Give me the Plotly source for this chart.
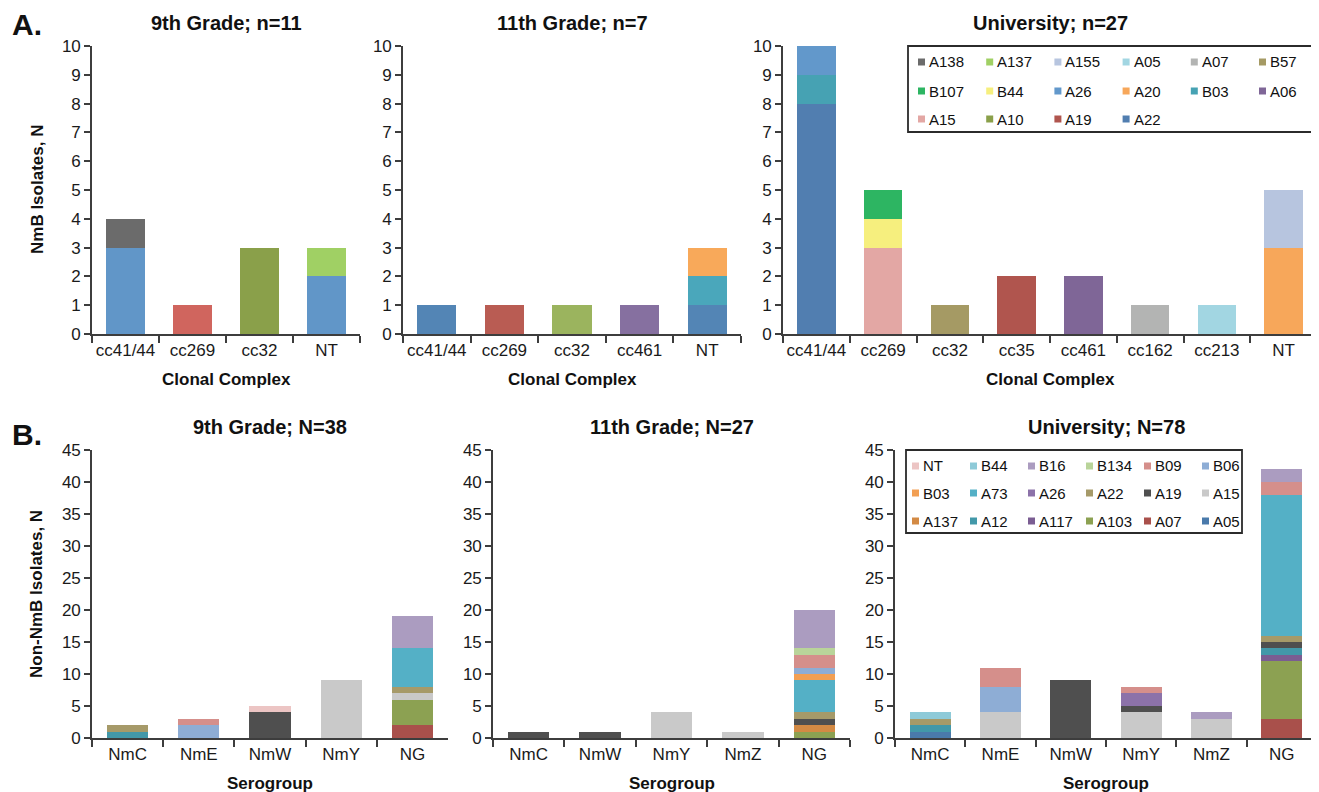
import plotly.graph_objects as go

# page body has an 8px margin: figure is sized so that pixel positions match the window
OFF = 8
W, H = 1319 - OFF, 792 - OFF
FONT = "Liberation Sans, Arial, sans-serif"

# ---------------- Panel A: NmB isolates by clonal complex ----------------
# stack order bottom -> top (legend shows the reverse)
a_series = ["A22", "A19", "A10", "A15", "A06", "B03", "A20", "A26", "B44",
            "B107", "B57", "A07", "A05", "A155", "A137", "A138"]
a_colors = {"A138": "#6b6b6b", "A137": "#a0d064", "A155": "#b7c5df", "A05": "#a2d6e2",
            "A07": "#b3b4b3", "B57": "#a59a64", "B107": "#2db562", "B44": "#f6ef7e",
            "A26": "#6298cb", "A20": "#f7a75a", "B03": "#46a2b3", "A06": "#7f6697",
            "A15": "#e3a7a4", "A10": "#8aa04a", "A19": "#b0554e", "A22": "#517eb0"}

a9_title = "9th Grade; n=11"
a9_cats = ["cc41/44", "cc269", "cc32", "NT"]
a9_vals = {"A19": [0, 1, 0, 0], "A10": [0, 0, 3, 0], "A26": [3, 0, 0, 2],
           "A137": [0, 0, 0, 1], "A138": [1, 0, 0, 0]}
a9_colors = {"A19": "#d0655e", "A26": "#6196c8"}

a11_title = "11th Grade; n=7"
a11_cats = ["cc41/44", "cc269", "cc32", "cc461", "NT"]
a11_vals = {"A22": [1, 0, 0, 0, 1], "A19": [0, 1, 0, 0, 0], "A10": [0, 0, 1, 0, 0],
            "A06": [0, 0, 0, 1, 0], "B03": [0, 0, 0, 0, 1], "A20": [0, 0, 0, 0, 1]}
a11_colors = {"A22": "#5385b5", "A19": "#b95c53", "A10": "#9bb45e", "A06": "#8670a0",
              "B03": "#4aa7bb", "A20": "#f8a95a"}

au_title = "University; n=27"
au_cats = ["cc41/44", "cc269", "cc32", "cc35", "cc461", "cc162", "cc213", "NT"]
au_vals = {"A22": [8, 0, 0, 0, 0, 0, 0, 0], "A19": [0, 0, 0, 2, 0, 0, 0, 0],
           "A15": [0, 3, 0, 0, 0, 0, 0, 0], "A06": [0, 0, 0, 0, 2, 0, 0, 0],
           "B03": [1, 0, 0, 0, 0, 0, 0, 0], "A20": [0, 0, 0, 0, 0, 0, 0, 3],
           "A26": [1, 0, 0, 0, 0, 0, 0, 0], "B44": [0, 1, 0, 0, 0, 0, 0, 0],
           "B107": [0, 1, 0, 0, 0, 0, 0, 0], "B57": [0, 0, 1, 0, 0, 0, 0, 0],
           "A07": [0, 0, 0, 0, 0, 1, 0, 0], "A05": [0, 0, 0, 0, 0, 0, 1, 0],
           "A155": [0, 0, 0, 0, 0, 0, 0, 2]}
au_colors = {}

# ---------------- Panel B: non-NmB isolates by serogroup ----------------
b_series = ["A05", "A07", "A103", "A117", "A12", "A137", "A15", "A19", "A22", "A26",
            "A73", "B03", "B06", "B09", "B134", "B16", "B44", "NT"]
b_colors = {"NT": "#ecc5c4", "B44": "#8ecad8", "B16": "#ab9cc0", "B134": "#b9d49a",
            "B09": "#d58f8b", "B06": "#8eadd5", "B03": "#f29f53", "A73": "#54b0c6",
            "A26": "#8c72a9", "A22": "#a69a69", "A19": "#4f4f4f", "A15": "#c9c9c9",
            "A137": "#d38a44", "A12": "#4298a9", "A117": "#7a5d92", "A103": "#8ca152",
            "A07": "#a9504b", "A05": "#4a7aab"}

b9_title = "9th Grade; N=38"
b9_cats = ["NmC", "NmE", "NmW", "NmY", "NG"]
b9_vals = {"A07": [0, 0, 0, 0, 2], "A103": [0, 0, 0, 0, 4], "A12": [1, 0, 0, 0, 0],
           "A15": [0, 0, 0, 9, 1], "A19": [0, 0, 4, 0, 0], "A22": [1, 0, 0, 0, 1],
           "A73": [0, 0, 0, 0, 6], "B06": [0, 2, 0, 0, 0], "B09": [0, 1, 0, 0, 0],
           "B16": [0, 0, 0, 0, 5], "NT": [0, 0, 1, 0, 0]}

b11_title = "11th Grade; N=27"
b11_cats = ["NmC", "NmW", "NmY", "NmZ", "NG"]
b11_vals = {"A103": [0, 0, 0, 0, 1], "A137": [0, 0, 0, 0, 1], "A15": [0, 0, 4, 1, 0],
            "A19": [1, 1, 0, 0, 1], "A22": [0, 0, 0, 0, 1], "A73": [0, 0, 0, 0, 5],
            "B03": [0, 0, 0, 0, 1], "B06": [0, 0, 0, 0, 1], "B09": [0, 0, 0, 0, 2],
            "B134": [0, 0, 0, 0, 1], "B16": [0, 0, 0, 0, 6]}

bu_title = "University; N=78"
bu_cats = ["NmC", "NmE", "NmW", "NmY", "NmZ", "NG"]
bu_vals = {"A05": [1, 0, 0, 0, 0, 0], "A07": [0, 0, 0, 0, 0, 3], "A103": [0, 0, 0, 0, 0, 9],
           "A117": [0, 0, 0, 0, 0, 1], "A12": [1, 0, 0, 0, 0, 1], "A15": [0, 4, 0, 4, 3, 0],
           "A19": [0, 0, 9, 1, 0, 1], "A22": [1, 0, 0, 0, 0, 1], "A26": [0, 0, 0, 2, 0, 0],
           "A73": [0, 0, 0, 0, 0, 22], "B06": [0, 4, 0, 0, 0, 0], "B09": [0, 3, 0, 1, 0, 2],
           "B16": [0, 0, 0, 0, 1, 2], "B44": [1, 0, 0, 0, 0, 0]}

a_ytitle = "NmB Isolates, N"
b_ytitle = "Non-NmB Isolates, N"
a_xtitle = "Clonal Complex"
b_xtitle = "Serogroup"


def fx(px):
    return (px - OFF) / W


def fy(py):
    return 1 - (py - OFF) / H


# subplot layout (pixel boxes in window coordinates)
panels = [
    dict(title=a9_title, cats=a9_cats, vals=a9_vals, order=a_series, colors={**a_colors, **a9_colors},
         x0=92, x1=360, y0=46, y1=334, ymax=10, dtick=1, xtitle=a_xtitle),
    dict(title=a11_title, cats=a11_cats, vals=a11_vals, order=a_series, colors={**a_colors, **a11_colors},
         x0=403, x1=741, y0=46, y1=334, ymax=10, dtick=1, xtitle=a_xtitle),
    dict(title=au_title, cats=au_cats, vals=au_vals, order=a_series, colors={**a_colors, **au_colors},
         x0=783, x1=1317, y0=46, y1=334, ymax=10, dtick=1, xtitle=a_xtitle),
    dict(title=b9_title, cats=b9_cats, vals=b9_vals, order=b_series, colors=b_colors,
         x0=92, x1=448, y0=450, y1=738, ymax=45, dtick=5, xtitle=b_xtitle),
    dict(title=b11_title, cats=b11_cats, vals=b11_vals, order=b_series, colors=b_colors,
         x0=493, x1=850, y0=450, y1=738, ymax=45, dtick=5, xtitle=b_xtitle),
    dict(title=bu_title, cats=bu_cats, vals=bu_vals, order=b_series, colors=b_colors,
         x0=895, x1=1317, y0=450, y1=738, ymax=45, dtick=5, xtitle=b_xtitle),
]

fig = go.Figure()
annotations = []
shapes = []
AXC = "#3d3d3d"

for i, p in enumerate(panels, start=1):
    sx = "" if i == 1 else str(i)
    xid, yid = "x" + sx, "y" + sx
    for s in p["order"]:
        if s not in p["vals"]:
            continue
        fig.add_trace(go.Bar(x=p["cats"], y=p["vals"][s], name=s,
                             marker=dict(color=p["colors"][s], line=dict(width=0)),
                             xaxis=xid, yaxis=yid, showlegend=False))
    fig.layout["xaxis" + sx] = dict(
        domain=[fx(p["x0"]), fx(p["x1"])], anchor=yid, type="category",
        categoryorder="array", categoryarray=p["cats"], tickangle=0,
        showline=True, linecolor=AXC, linewidth=1.6, ticks="outside", tickson="boundaries",
        ticklen=7, tickwidth=1.6, tickcolor=AXC, showgrid=False, zeroline=False,
        tickfont=dict(family=FONT, size=17, color="#1a1a1a"), automargin=False, fixedrange=True)
    fig.layout["yaxis" + sx] = dict(
        domain=[fy(p["y1"]), fy(p["y0"])], anchor=xid, range=[0, p["ymax"]], dtick=p["dtick"],
        showline=True, linecolor=AXC, linewidth=1.6, ticks="outside", ticklen=6, tickwidth=1.6,
        tickcolor=AXC, showgrid=False, zeroline=False,
        tickfont=dict(family=FONT, size=17, color="#1a1a1a"), automargin=False, fixedrange=True)
    cx = fx((p["x0"] + p["x1"]) / 2)
    annotations.append(dict(text="<b>%s</b>" % p["title"], x=cx, y=fy(p["y0"] - 23),
                            xref="paper", yref="paper", showarrow=False, xanchor="center",
                            yanchor="middle", font=dict(family=FONT, size=20, color="#111")))
    annotations.append(dict(text="<b>%s</b>" % p["xtitle"], x=cx, y=fy(p["y1"] + 45),
                            xref="paper", yref="paper", showarrow=False, xanchor="center",
                            yanchor="middle", font=dict(family=FONT, size=17, color="#111")))

# y-axis titles and panel letters
annotations.append(dict(text="<b>%s</b>" % a_ytitle, x=fx(37), y=fy(190), xref="paper", yref="paper",
                        showarrow=False, textangle=-90, xanchor="center", yanchor="middle",
                        font=dict(family=FONT, size=17, color="#111")))
annotations.append(dict(text="<b>%s</b>" % b_ytitle, x=fx(36), y=fy(594), xref="paper", yref="paper",
                        showarrow=False, textangle=-90, xanchor="center", yanchor="middle",
                        font=dict(family=FONT, size=17, color="#111")))
annotations.append(dict(text="<b>A.</b>", x=fx(10), y=fy(25), xref="paper", yref="paper",
                        showarrow=False, xanchor="left", yanchor="middle",
                        font=dict(family=FONT, size=30, color="#111")))
annotations.append(dict(text="<b>B.</b>", x=fx(10), y=fy(434), xref="paper", yref="paper",
                        showarrow=False, xanchor="left", yanchor="middle",
                        font=dict(family=FONT, size=30, color="#111")))


def add_legend(names, colors, box, sq_x0, col_dx, rows_y, sq=7):
    bx0, by0, bx1, by1 = box
    shapes.append(dict(type="rect", xref="paper", yref="paper", x0=fx(bx0), x1=fx(bx1),
                       y0=fy(by1), y1=fy(by0), line=dict(color="#2b2b2b", width=1.8),
                       fillcolor="white", layer="above"))
    for k, name in enumerate(names):
        r, c = divmod(k, 6)
        x = sq_x0 + c * col_dx
        y = rows_y[r]
        shapes.append(dict(type="rect", xref="paper", yref="paper", x0=fx(x), x1=fx(x + sq),
                           y0=fy(y + sq / 2), y1=fy(y - sq / 2), line=dict(width=0),
                           fillcolor=colors[name], layer="above"))
        annotations.append(dict(text=name, x=fx(x + sq + 2), y=fy(y), xref="paper", yref="paper",
                                showarrow=False, xanchor="left", yanchor="middle",
                                font=dict(family=FONT, size=15, color="#111")))


add_legend(list(reversed(a_series)), a_colors, (908, 46, 1314, 132), 918, 68.2, [62, 91, 119])
add_legend(list(reversed(b_series)), b_colors, (906, 450, 1242, 533), 912, 58, [466, 493, 521])

fig.update_layout(width=W, height=H, margin=dict(l=0, r=0, t=0, b=0), barmode="stack",
                  bargap=0.42, plot_bgcolor="white", paper_bgcolor="white", showlegend=False,
                  annotations=annotations, shapes=shapes, template="none",
                  font=dict(family=FONT, color="#111"))

fig.write_html("out.html")
